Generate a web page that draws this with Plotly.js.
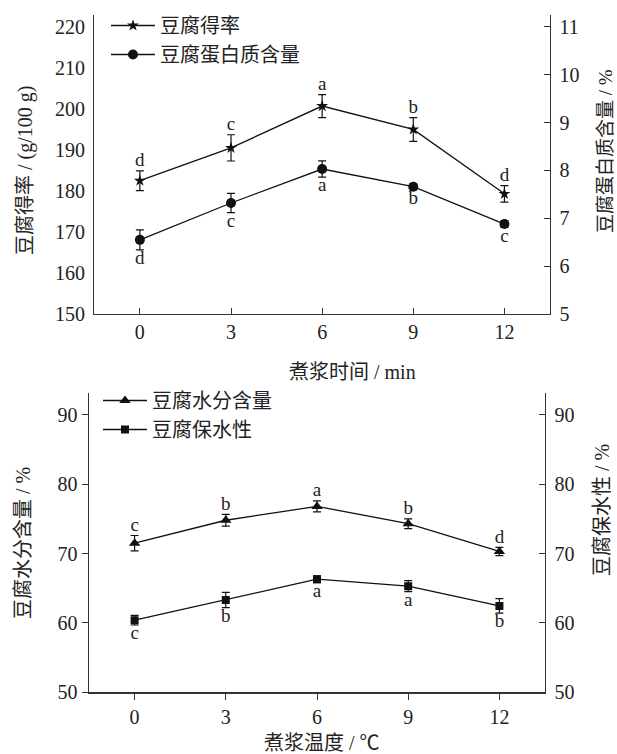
<!DOCTYPE html>
<html>
<head>
<meta charset="utf-8">
<script src="https://cdn.plot.ly/plotly-3.0.1.min.js"></script>
<style>html,body{margin:0;padding:0;background:#fff;}#chart{width:617px;height:754px;}</style>
</head>
<body>
<div id="chart"></div>
<script>
// ---- data ----
var timeX = [0, 3, 6, 9, 12];
var yieldVals = [182.5, 190.5, 200.7, 195.0, 179.3];
var yieldErr = [2.4, 3.2, 2.8, 2.9, 2.0];
var yieldLetters = ['d', 'c', 'a', 'b', 'd'];
var proteinVals = [6.55, 7.32, 8.03, 7.66, 6.88];
var proteinErr = [0.21, 0.20, 0.17, 0.06, 0.07];
var proteinLetters = ['d', 'c', 'a', 'b', 'c'];

var tempX = [0, 3, 6, 9, 12];
var moistureVals = [71.5, 74.8, 76.8, 74.3, 70.3];
var moistureErr = [1.1, 0.85, 0.8, 0.7, 0.6];
var moistureLetters = ['c', 'b', 'a', 'b', 'd'];
var whcVals = [60.4, 63.3, 66.3, 65.3, 62.45];
var whcErr = [0.7, 1.1, 0.5, 0.8, 1.05];
var whcLetters = ['c', 'b', 'a', 'a', 'b'];

var xTicks = [0, 3, 6, 9, 12];
var yieldTicks = [150, 160, 170, 180, 190, 200, 210, 220];
var yieldTickMarks = [150, 167.5, 185, 202.5, 220];
var proteinTicks = [5, 6, 7, 8, 9, 10, 11];
var pctTicks = [50, 60, 70, 80, 90];

var FONT = 'Liberation Serif, Noto Sans CJK SC, serif';
var TXT = '#222';
var W = 617, H = 754;

function px(x) { return x / W; }
function py(y) { return 1 - y / H; }

function add(arr, err, s) { return arr.map(function (v, i) { return v + s * err[i]; }); }

var lineStyle = { color: '#111', width: 1.3 };
function errStyle(arr) { return { type: 'data', array: arr, visible: true, color: '#111', thickness: 1.2, width: 4 }; }

var traces = [
  { x: timeX, y: yieldVals, name: '豆腐得率', type: 'scatter', mode: 'lines+markers',
    line: lineStyle, marker: { symbol: 'star', size: 9, color: '#111' },
    error_y: errStyle(yieldErr), xaxis: 'x', yaxis: 'y', legend: 'legend' },
  { x: timeX, y: proteinVals, name: '豆腐蛋白质含量', type: 'scatter', mode: 'lines+markers',
    line: lineStyle, marker: { symbol: 'circle', size: 10, color: '#111' },
    error_y: errStyle(proteinErr), xaxis: 'x', yaxis: 'y2', legend: 'legend' },
  { x: timeX, y: add(yieldVals, yieldErr, 1), text: yieldLetters, mode: 'text', type: 'scatter',
    textposition: 'top center', textfont: { family: FONT, size: 19, color: TXT },
    showlegend: false, hoverinfo: 'skip', xaxis: 'x', yaxis: 'y' },
  { x: timeX, y: add(proteinVals, proteinErr, -1), text: proteinLetters, mode: 'text', type: 'scatter',
    textposition: 'bottom center', textfont: { family: FONT, size: 19, color: TXT },
    showlegend: false, hoverinfo: 'skip', xaxis: 'x', yaxis: 'y2' },

  { x: tempX, y: moistureVals, name: '豆腐水分含量', type: 'scatter', mode: 'lines+markers',
    line: lineStyle, marker: { symbol: 'triangle-up', size: 10, color: '#111' },
    error_y: errStyle(moistureErr), xaxis: 'x2', yaxis: 'y4', legend: 'legend2' },
  { x: tempX, y: whcVals, name: '豆腐保水性', type: 'scatter', mode: 'lines+markers',
    line: lineStyle, marker: { symbol: 'square', size: 8, color: '#111' },
    error_y: errStyle(whcErr), xaxis: 'x2', yaxis: 'y5', legend: 'legend2' },
  { x: tempX, y: add(moistureVals, moistureErr, 1), text: moistureLetters, mode: 'text', type: 'scatter',
    textposition: 'top center', textfont: { family: FONT, size: 19, color: TXT },
    showlegend: false, hoverinfo: 'skip', xaxis: 'x2', yaxis: 'y4' },
  { x: tempX, y: add(whcVals, whcErr, -1), text: whcLetters, mode: 'text', type: 'scatter',
    textposition: 'bottom center', textfont: { family: FONT, size: 19, color: TXT },
    showlegend: false, hoverinfo: 'skip', xaxis: 'x2', yaxis: 'y5' }
];

var axisFont = { family: FONT, size: 20, color: TXT };
var AX = '#333';

var topDom = [py(314), py(15)];
var botDom = [py(692.3), py(393.3)];

var layout = {
  width: W, height: H,
  margin: { l: 0, r: 0, t: 0, b: 0, pad: 0 },
  paper_bgcolor: '#ffffff', plot_bgcolor: '#ffffff',
  font: { family: FONT, color: TXT },
  xaxis: { domain: [px(94.3), px(550)], range: [-1.5, 13.5], tickvals: xTicks,
    ticks: 'inside', ticklen: 6, tickcolor: AX, showline: true, linecolor: AX, linewidth: 1.4,
    showgrid: false, zeroline: false, tickfont: axisFont, anchor: 'y', fixedrange: true },
  yaxis: { domain: topDom, range: [150, 222.9], tickvals: yieldTicks, ticks: '',
    showline: true, linecolor: AX, linewidth: 1.4, showgrid: false, zeroline: false,
    tickfont: axisFont, anchor: 'x', ticklabelstandoff: 4 },
  yaxis2: { overlaying: 'y', side: 'right', anchor: 'x', range: [5, 11.249], tickvals: proteinTicks,
    ticks: 'inside', ticklen: 6, tickcolor: AX, showline: true, linecolor: AX, linewidth: 1.4,
    showgrid: false, zeroline: false, tickfont: axisFont, ticklabelstandoff: 4 },
  yaxis3: { overlaying: 'y', side: 'left', anchor: 'x', range: [150, 222.9], tickvals: yieldTickMarks,
    ticks: 'inside', ticklen: 6, tickcolor: AX, showticklabels: false, showline: false,
    showgrid: false, zeroline: false },

  xaxis2: { domain: [px(89), px(545)], range: [-1.5, 13.5], tickvals: xTicks,
    ticks: 'outside', ticklen: 6, tickcolor: AX, showline: true, linecolor: AX, linewidth: 1.4,
    showgrid: false, zeroline: false, tickfont: axisFont, anchor: 'y4' },
  yaxis4: { domain: botDom, range: [50, 93.1], tickvals: pctTicks, anchor: 'x2',
    ticks: 'outside', ticklen: 6, tickcolor: AX, showline: true, linecolor: AX, linewidth: 1.4,
    showgrid: false, zeroline: false, tickfont: axisFont },
  yaxis5: { overlaying: 'y4', side: 'right', anchor: 'x2', range: [50, 93.1], tickvals: pctTicks,
    ticks: 'inside', ticklen: 6, tickcolor: AX, showline: true, linecolor: AX, linewidth: 1.4,
    showgrid: false, zeroline: false, tickfont: axisFont, ticklabelstandoff: 4 },

  legend: { x: px(106), y: py(6), xanchor: 'left', yanchor: 'top', bgcolor: 'rgba(0,0,0,0)',
    font: { family: FONT, size: 20, color: TXT }, tracegroupgap: 0, itemwidth: 44 },
  legend2: { x: px(98), y: py(381), xanchor: 'left', yanchor: 'top', bgcolor: 'rgba(0,0,0,0)',
    font: { family: FONT, size: 20, color: TXT }, tracegroupgap: 0, itemwidth: 44 },

  annotations: [
    { text: '煮浆时间 / min', xref: 'paper', yref: 'paper', x: px(352), y: py(372),
      showarrow: false, font: axisFont, xanchor: 'center', yanchor: 'middle' },
    { text: '豆腐得率 / (g/100 g)', xref: 'paper', yref: 'paper', x: px(25), y: py(171),
      showarrow: false, font: axisFont, textangle: -90, xanchor: 'center', yanchor: 'middle' },
    { text: '豆腐蛋白质含量 / %', xref: 'paper', yref: 'paper', x: px(605), y: py(151),
      showarrow: false, font: { family: FONT, size: 19, color: TXT }, textangle: -90, xanchor: 'center', yanchor: 'middle' },
    { text: '煮浆温度 / ℃', xref: 'paper', yref: 'paper', x: px(322), y: py(743),
      showarrow: false, font: axisFont, xanchor: 'center', yanchor: 'middle' },
    { text: '豆腐水分含量 / %', xref: 'paper', yref: 'paper', x: px(23), y: py(543),
      showarrow: false, font: axisFont, textangle: -90, xanchor: 'center', yanchor: 'middle' },
    { text: '豆腐保水性 / %', xref: 'paper', yref: 'paper', x: px(602), y: py(510),
      showarrow: false, font: axisFont, textangle: -90, xanchor: 'center', yanchor: 'middle' }
  ],
  showlegend: true
};

Plotly.newPlot('chart', traces, layout, { staticPlot: true, displayModeBar: false });
</script>
</body>
</html>
